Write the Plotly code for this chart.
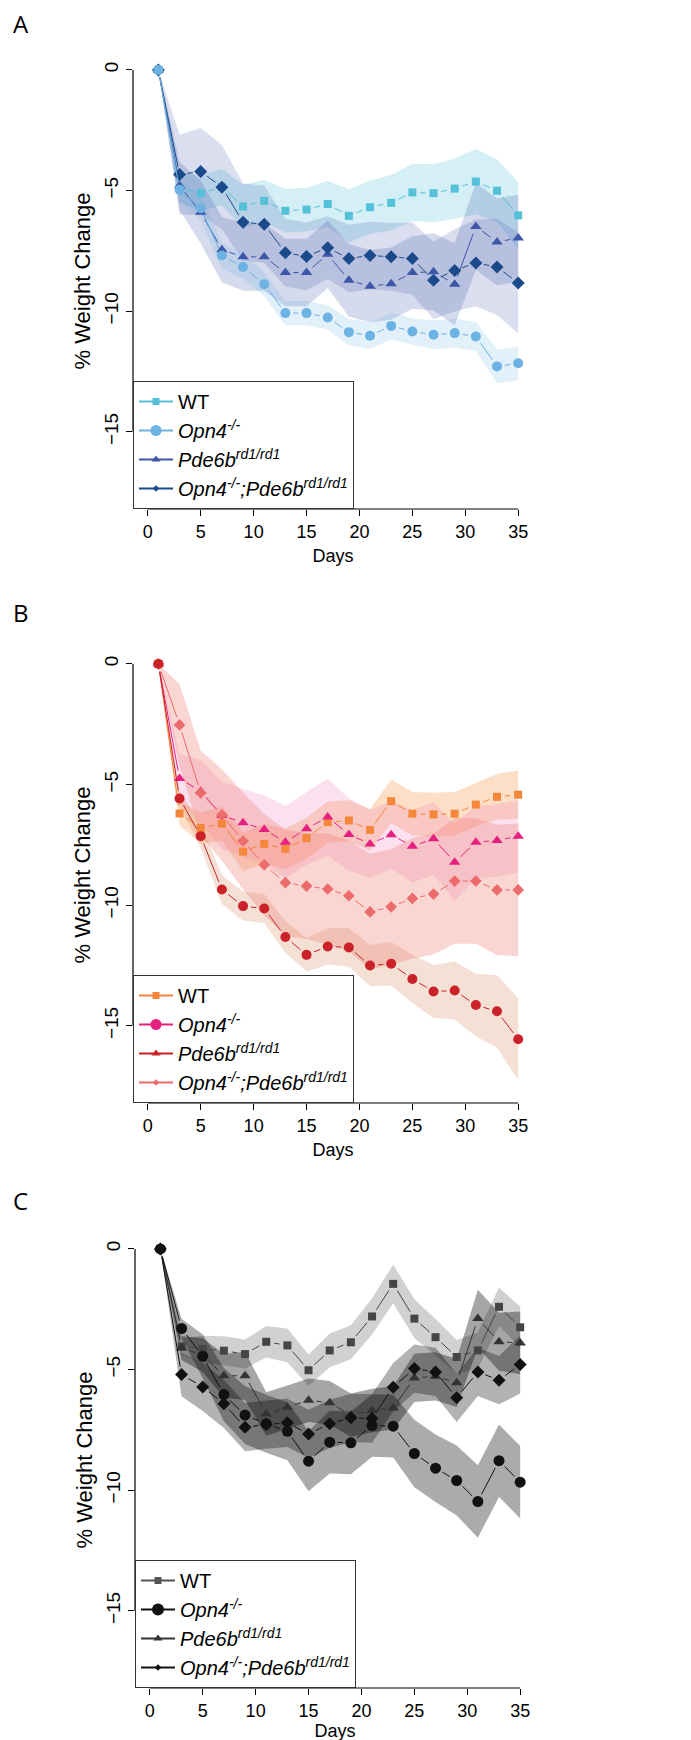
import math
import plotly.graph_objects as go

# ---------------- data ----------------
days = [1, 3, 5, 7, 9, 11, 13, 15, 17, 19, 21, 23, 25, 27, 29, 31, 33, 35]

# Panel A
A_wt_mean = [0, -4.9, -5.11, -4.85, -5.66, -5.43, -5.84, -5.79, -5.56, -6.05, -5.69, -5.51, -5.08, -5.11, -4.92, -4.63, -5.01, -6.03]
A_wt_sem = [0, 0.6, 0.75, 0.75, 0.9, 0.87, 0.9, 0.9, 0.95, 1.1, 1.1, 1.15, 1.18, 1.2, 1.25, 1.35, 1.3, 1.37]
A_opn_mean = [0, -4.97, -5.73, -7.69, -8.17, -8.88, -10.08, -10.08, -10.26, -10.87, -11.02, -10.61, -10.84, -10.98, -10.91, -11.05, -12.29, -12.16]
A_opn_sem = [0, 0.4, 0.5, 0.55, 0.5, 0.5, 0.5, 0.5, 0.5, 0.55, 0.55, 0.55, 0.55, 0.6, 0.6, 0.6, 0.7, 0.7]
A_pde_mean = [0, -4.8, -5.9, -7.45, -7.75, -7.75, -8.4, -8.4, -7.64, -8.72, -8.97, -8.86, -8.4, -8.37, -8.88, -6.49, -7.13, -6.97]
A_pde_sem = [0, 1.0, 1.3, 1.35, 1.4, 1.4, 1.4, 1.4, 1.4, 1.5, 1.5, 1.5, 1.5, 1.6, 1.7, 1.8, 1.8, 1.8]
A_dko_mean = [0, -4.34, -4.21, -4.86, -6.31, -6.4, -7.58, -7.73, -7.37, -7.82, -7.69, -7.75, -7.82, -8.72, -8.31, -8.0, -8.17, -8.83]
A_dko_sem = [0, 1.65, 1.8, 1.75, 1.6, 1.6, 1.4, 1.4, 1.3, 1.4, 1.4, 1.4, 1.5, 1.6, 1.7, 1.8, 2.0, 2.1]

# Panel B
B_wt_mean = [0, -6.2, -6.8, -6.62, -7.78, -7.46, -7.67, -7.22, -6.56, -6.49, -6.88, -5.69, -6.21, -6.24, -6.21, -5.83, -5.51, -5.42]
B_wt_sem = [0, 0.5, 0.65, 0.7, 0.8, 0.8, 0.85, 0.85, 0.85, 0.85, 0.85, 0.9, 0.9, 0.9, 0.9, 0.9, 0.95, 1.0]
B_mag_mean = [0, -4.75, -5.28, -6.28, -6.58, -6.86, -7.39, -6.83, -6.35, -7.07, -7.46, -7.08, -7.56, -7.25, -8.22, -7.39, -7.32, -7.14]
B_mag_sem = [0, 1.0, 1.3, 1.4, 1.4, 1.4, 1.5, 1.5, 1.6, 1.5, 1.4, 1.4, 1.5, 1.5, 1.6, 1.5, 1.5, 1.5]
B_red_mean = [0, -5.58, -7.14, -9.35, -10.04, -10.14, -11.32, -12.06, -11.71, -11.75, -12.5, -12.43, -13.06, -13.58, -13.54, -14.14, -14.4, -15.56]
B_red_sem = [0, 0.3, 0.5, 0.6, 0.6, 0.6, 0.65, 0.7, 0.75, 0.8, 0.85, 0.9, 1.0, 1.1, 1.2, 1.3, 1.5, 1.7]
B_dko_mean = [0, -2.53, -5.35, -6.26, -7.34, -8.33, -9.07, -9.21, -9.33, -9.61, -10.28, -10.07, -9.72, -9.54, -9.0, -9.0, -9.37, -9.37]
B_dko_sem = [0, 1.7, 1.75, 1.9, 2.0, 2.1, 2.2, 2.2, 2.3, 2.3, 2.4, 2.4, 2.5, 2.5, 2.6, 2.6, 2.7, 2.75]

# Panel C
C_wt_mean = [0, -4.04, -4.15, -4.22, -4.36, -3.85, -4.0, -5.03, -4.21, -3.87, -2.8, -1.45, -2.89, -3.66, -4.48, -4.21, -2.4, -3.25]
C_wt_sem = [0, 0.35, 0.55, 0.6, 0.6, 0.65, 0.7, 0.65, 0.7, 0.7, 0.75, 0.8, 0.8, 0.75, 0.7, 0.75, 0.8, 0.85]
C_opn_mean = [0, -3.3, -4.45, -6.04, -6.89, -7.25, -7.56, -8.8, -8.01, -8.04, -7.32, -7.35, -8.48, -9.09, -9.6, -10.47, -8.78, -9.67]
C_opn_sem = [0, 0.4, 0.9, 1.1, 1.2, 1.2, 1.2, 1.25, 1.3, 1.3, 1.3, 1.3, 1.4, 1.4, 1.45, 1.5, 1.5, 1.5]
C_pde_mean = [0, -4.11, -4.4, -5.26, -5.26, -6.84, -6.56, -6.27, -6.38, -6.89, -6.7, -6.59, -5.35, -5.28, -5.55, -2.89, -3.85, -3.9]
C_pde_sem = [0, 0.5, 0.7, 0.9, 1.0, 0.9, 0.9, 0.9, 0.9, 0.9, 0.9, 0.9, 1.0, 1.0, 1.0, 1.2, 1.2, 1.3]
C_dko_mean = [0, -5.21, -5.72, -6.42, -7.39, -7.28, -7.21, -7.67, -7.25, -7.0, -7.03, -5.73, -4.96, -5.1, -6.17, -5.1, -5.44, -4.79]
C_dko_sem = [0, 0.9, 1.0, 1.0, 1.0, 1.0, 1.0, 1.0, 1.0, 1.0, 1.0, 1.0, 1.0, 1.0, 1.0, 1.0, 1.0, 1.2]

legend_labels = ["WT", "<i>Opn4<sup>-/-</sup></i>", "<i>Pde6b<sup>rd1/rd1</sup></i>",
                 "<i>Opn4<sup>-/-</sup>;Pde6b<sup>rd1/rd1</sup></i>"]
x_ticks = [0, 5, 10, 15, 20, 25, 30, 35]
y_ticks = [0, -5, -10, -15]
panel_letters = ["A", "B", "C"]

# ---------------- styling ----------------
W, H = 691, 1740
FONT = "Liberation Sans, Arial, sans-serif"
XR = [-1.4, 36.4]
YR = [-18.2, 0.7]
# pixel boxes of plot regions (left, right, top, bottom)
boxes = [(125, 525, 45, 501), (125, 525, 639, 1095), (127, 527, 1224, 1680)]
days_standoff = [8, 8, 2]
PX_X = 400 / (XR[1] - XR[0])
PX_Y = 456 / (YR[1] - YR[0])

# series drawn in this order (circle series last, as in the reference)
panels = [
    [  # A
        dict(mean=A_wt_mean, sem=A_wt_sem, color="#55C1D8", band="rgba(85,193,216,0.25)", sym="square", size=8),
        dict(mean=A_pde_mean, sem=A_pde_sem, color="#3E56A8", band="rgba(62,86,168,0.22)", sym="triangle-up", size=10),
        dict(mean=A_dko_mean, sem=A_dko_sem, color="#1B4A8A", band="rgba(70,90,175,0.2)", sym="diamond", size=10),
        dict(mean=A_opn_mean, sem=A_opn_sem, color="#6CB2E3", band="rgba(108,178,227,0.2)", sym="circle", size=10),
    ],
    [  # B
        dict(mean=B_wt_mean, sem=B_wt_sem, color="#F5873A", band="rgba(247,150,70,0.3)", sym="square", size=8),
        dict(mean=B_mag_mean, sem=B_mag_sem, color="#E5207F", band="rgba(238,120,180,0.22)", sym="triangle-up", size=10),
        dict(mean=B_dko_mean, sem=B_dko_sem, color="#EC6B6B", band="rgba(240,120,110,0.3)", sym="diamond", size=9),
        dict(mean=B_red_mean, sem=B_red_sem, color="#CB2229", band="rgba(215,130,90,0.25)", sym="circle", size=10),
    ],
    [  # C
        dict(mean=C_wt_mean, sem=C_wt_sem, color="#454545", band="rgba(0,0,0,0.18)", sym="square", size=8),
        dict(mean=C_pde_mean, sem=C_pde_sem, color="#333333", band="rgba(0,0,0,0.35)", sym="triangle-up", size=10),
        dict(mean=C_dko_mean, sem=C_dko_sem, color="#111111", band="rgba(0,0,0,0.3)", sym="diamond", size=10),
        dict(mean=C_opn_mean, sem=C_opn_sem, color="#111111", band="rgba(0,0,0,0.33)", sym="circle", size=11),
    ],
]

legend_styles = [
    [("#55C1D8", "square", 7), ("#6CB2E3", "circle", 11), ("#3E56A8", "triangle-up", 8), ("#1B4A8A", "diamond", 5)],
    [("#F5873A", "square", 7), ("#E5207F", "circle", 11), ("#CB2229", "triangle-up", 8), ("#EC6B6B", "diamond", 5)],
    [("#555555", "square", 7), ("#111111", "circle", 12), ("#333333", "triangle-up", 8), ("#111111", "diamond", 5)],
]


def gapped(xs, ys, gap=8.0):
    """Line segments between consecutive points, with R type='b' gaps around points."""
    X, Y = [], []
    for i in range(len(xs) - 1):
        dx = (xs[i + 1] - xs[i]) * PX_X
        dy = (ys[i + 1] - ys[i]) * PX_Y
        L = math.hypot(dx, dy)
        if L <= 2 * gap:
            continue
        f = gap / L
        X += [xs[i] + f * (xs[i + 1] - xs[i]), xs[i + 1] - f * (xs[i + 1] - xs[i]), None]
        Y += [ys[i] + f * (ys[i + 1] - ys[i]), ys[i + 1] - f * (ys[i + 1] - ys[i]), None]
    return X, Y


fig = go.Figure()
layout = dict(width=W, height=H, margin=dict(l=0, r=0, t=0, b=0),
              paper_bgcolor="white", plot_bgcolor="rgba(0,0,0,0)", showlegend=True,
              font=dict(family=FONT, color="black"))
shapes, annotations = [], []

for p, series in enumerate(panels):
    sfx = "" if p == 0 else str(p + 1)
    xa, ya = "x" + sfx, "y" + sfx
    L_, R_, T_, B_ = boxes[p]
    legname = "legend" + sfx
    # bands
    for s in series:
        up = [m + e for m, e in zip(s["mean"], s["sem"])]
        lo = [m - e for m, e in zip(s["mean"], s["sem"])]
        fig.add_trace(go.Scatter(x=days + days[::-1], y=up + lo[::-1], fill="toself",
                                 fillcolor=s["band"], line=dict(width=0), mode="lines",
                                 hoverinfo="skip", showlegend=False, xaxis=xa, yaxis=ya))
    # lines + markers
    for s in series:
        gx, gy = gapped(days, s["mean"])
        fig.add_trace(go.Scatter(x=gx, y=gy, mode="lines", line=dict(color=s["color"], width=1),
                                 showlegend=False, hoverinfo="skip", xaxis=xa, yaxis=ya))
        fig.add_trace(go.Scatter(x=days, y=s["mean"], mode="markers",
                                 marker=dict(color=s["color"], symbol=s["sym"], size=s["size"],
                                             line=dict(width=0)),
                                 showlegend=False, xaxis=xa, yaxis=ya))
    # legend entries
    for lab, (col, sym, sz) in zip(legend_labels, legend_styles[p]):
        fig.add_trace(go.Scatter(x=[None], y=[None], mode="lines+markers", name=lab,
                                 line=dict(color=col, width=2),
                                 marker=dict(color=col, symbol=sym, size=sz, line=dict(width=0)),
                                 legend=legname, xaxis=xa, yaxis=ya))
    layout[legname] = dict(x=L_ / W, y=1 - B_ / H, xanchor="left", yanchor="bottom",
                           bordercolor="#333333", borderwidth=1, bgcolor="white",
                           font=dict(size=20, family=FONT), itemsizing="trace",
                           tracegroupgap=0, itemwidth=34)
    layout["xaxis" + sfx] = dict(domain=[L_ / W, R_ / W], range=XR, showgrid=False, zeroline=False,
                                 showline=False, ticks="outside", ticklen=6, tickcolor="black",
                                 tickvals=x_ticks, tickfont=dict(size=18, family=FONT),
                                 title=dict(text="Days", font=dict(size=18, family=FONT),
                                            standoff=days_standoff[p]),
                                 anchor=ya)
    layout["yaxis" + sfx] = dict(domain=[1 - B_ / H, 1 - T_ / H], range=YR, showgrid=False,
                                 zeroline=False, showline=False, ticks="outside", ticklen=6,
                                 tickcolor="black", tickvals=y_ticks, tickangle=-90,
                                 tickfont=dict(size=19, family=FONT),
                                 title=dict(text="% Weight Change", font=dict(size=22, family=FONT),
                                            standoff=4),
                                 anchor=xa)
    # R-style axis lines spanning tick range only
    shapes.append(dict(type="line", xref=xa, yref=ya + " domain", x0=0, x1=35, y0=0, y1=0,
                       line=dict(color="black", width=1.2)))
    shapes.append(dict(type="line", xref=xa + " domain", yref=ya, x0=0, x1=0, y0=-15, y1=0,
                       line=dict(color="black", width=1.2)))
    annotations.append(dict(text=panel_letters[p], xref="paper", yref="paper", x=3 / W,
                            y=1 - [16, 605, 1192][p] / H, xanchor="left", yanchor="middle",
                            showarrow=False, font=dict(size=24, family="Open Sans, Liberation Sans")))

layout["shapes"] = shapes
layout["annotations"] = annotations
fig.update_layout(**layout)
fig.write_html("out.html")
